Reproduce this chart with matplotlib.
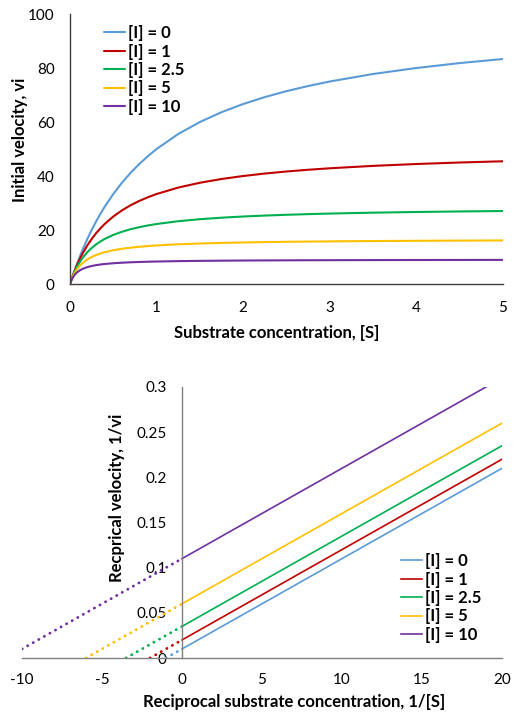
import matplotlib.pyplot as plt

plt.rcParams['font.family'] = ['Lato', 'DejaVu Sans']
plt.rcParams['axes.unicode_minus'] = False

# Michaelis-Menten curves
labels = ['[I] = 0', '[I] = 1', '[I] = 2.5', '[I] = 5', '[I] = 10']
colors = ['#5B9BD5', '#C00000', '#00B050', '#FFC000', '#7030A0']

s_conc = [0, 0.01, 0.025, 0.05, 0.075, 0.1, 0.125, 0.15, 0.2, 0.25, 0.3, 0.35, 0.4, 0.5,
          0.6, 0.7, 0.8, 0.9, 1.0, 1.25, 1.5, 1.75, 2.0, 2.25, 2.5, 2.75, 3.0, 3.5, 4.0, 4.5, 5.0]
v_i0 = [0, 0.99, 2.44, 4.76, 6.98, 9.09, 11.11, 13.04, 16.67, 20.0, 23.08, 25.93, 28.57, 33.33,
        37.5, 41.18, 44.44, 47.37, 50.0, 55.56, 60.0, 63.64, 66.67, 69.23, 71.43, 73.33, 75.0,
        77.78, 80.0, 81.82, 83.33]
v_i1 = [0, 0.98, 2.38, 4.55, 6.52, 8.33, 10.0, 11.54, 14.29, 16.67, 18.75, 20.59, 22.22, 25.0,
        27.27, 29.17, 30.77, 32.14, 33.33, 35.71, 37.5, 38.89, 40.0, 40.91, 41.67, 42.31, 42.86,
        43.75, 44.44, 45.0, 45.45]
v_i25 = [0, 0.97, 2.30, 4.26, 5.94, 7.41, 8.70, 9.84, 11.76, 13.33, 14.63, 15.73, 16.67, 18.18,
         19.35, 20.29, 21.05, 21.69, 22.22, 23.26, 24.0, 24.56, 25.0, 25.35, 25.64, 25.88, 26.09,
         26.42, 26.67, 26.87, 27.03]
v_i5 = [0, 0.94, 2.17, 3.85, 5.17, 6.25, 7.14, 7.89, 9.09, 10.0, 10.71, 11.29, 11.76, 12.5,
        13.04, 13.46, 13.79, 14.06, 14.29, 14.71, 15.0, 15.22, 15.38, 15.52, 15.63, 15.71, 15.79,
        15.91, 16.0, 16.07, 16.13]
v_i10 = [0, 0.90, 1.96, 3.23, 4.11, 4.76, 5.26, 5.66, 6.25, 6.67, 6.98, 7.22, 7.41, 7.69,
         7.89, 8.05, 8.16, 8.26, 8.33, 8.47, 8.57, 8.64, 8.70, 8.74, 8.77, 8.80, 8.82,
         8.86, 8.89, 8.91, 8.93]
velocities = [v_i0, v_i1, v_i25, v_i5, v_i10]

# Lineweaver-Burk lines
recip_x_dot = [-1, -2, -3.5, -6, -10]        # where the dotted extension starts
recip_y_dot = [0, 0, 0, 0, 0.01]
recip_y0 = [0.01, 0.02, 0.035, 0.06, 0.11]    # value at 1/[S] = 0
recip_y20 = [0.21, 0.22, 0.235, 0.26, 0.31]   # value at 1/[S] = 20

W, H = 524, 724
fig = plt.figure(figsize=(W / 100, H / 100), dpi=100)

def px_axes(left, top, right, bottom):
    return fig.add_axes([left / W, 1 - bottom / H, (right - left) / W, (bottom - top) / H])

tick_fs = 11
lab_fs = 12
leg_kw = dict(frameon=False, prop={'weight': 'bold', 'size': lab_fs}, handlelength=1.25,
              handletextpad=0.2, labelspacing=0.15, borderaxespad=0, borderpad=0)

# ---------------- top chart ----------------
ax1 = px_axes(70, 14, 503, 284)
for v, c, lab in zip(velocities, colors, labels):
    ax1.plot(s_conc, v, color=c, lw=1.5, label=lab, solid_capstyle='round')
ax1.set_xlim(0, 5)
ax1.set_ylim(0, 100)
ax1.set_xticks([0, 1, 2, 3, 4, 5])
ax1.set_yticks([0, 20, 40, 60, 80, 100])
for sp in ['top', 'right']:
    ax1.spines[sp].set_visible(False)
for sp in ['left', 'bottom']:
    ax1.spines[sp].set_color('#404040')
    ax1.spines[sp].set_linewidth(1.0)
ax1.tick_params(axis='both', length=0, labelsize=tick_fs, colors='#000000')
ax1.tick_params(axis='y', pad=11)
ax1.tick_params(axis='x', pad=12)
fig.text(20 / W, 1 - 140 / H, 'Initial velocity, vi', rotation=90, ha='center', va='center',
         fontsize=lab_fs, fontweight='bold')
fig.text(277 / W, 1 - 333 / H, 'Substrate concentration, [S]', ha='center', va='center',
         fontsize=lab_fs, fontweight='bold')
ax1.legend(loc='upper left', bbox_to_anchor=(104 / W, 1 - 25 / H), bbox_transform=fig.transFigure,
           **leg_kw)

# ---------------- bottom chart ----------------
ax2 = px_axes(22, 387, 502, 658)
handles = []
for i in range(len(labels)):
    ax2.plot([recip_x_dot[i], 0], [recip_y_dot[i], recip_y0[i]], color=colors[i], lw=2.0,
             linestyle=(0, (0.1, 2.2)), dash_capstyle='round')
    h, = ax2.plot([0, 20], [recip_y0[i], recip_y20[i]], color=colors[i], lw=1.2, label=labels[i])
    handles.append(h)
ax2.set_xlim(-10, 20)
ax2.set_ylim(0, 0.3)
ax2.set_xticks([-10, -5, 0, 5, 10, 15, 20])
ax2.set_yticks([0, 0.05, 0.1, 0.15, 0.2, 0.25, 0.3])
ax2.set_yticklabels(['0', '0.05', '0.1', '0.15', '0.2', '0.25', '0.3'])
for sp in ['top', 'right']:
    ax2.spines[sp].set_visible(False)
ax2.spines['left'].set_position(('data', 0))
for sp in ['left', 'bottom']:
    ax2.spines[sp].set_color('#808080')
    ax2.spines[sp].set_linewidth(1.0)
ax2.tick_params(axis='both', length=0, labelsize=tick_fs, colors='#000000')
ax2.tick_params(axis='y', pad=11)
ax2.tick_params(axis='x', pad=11)
fig.text(117 / W, 1 - 498 / H, 'Recprical velocity, 1/vi', rotation=90, ha='center', va='center',
         fontsize=lab_fs, fontweight='bold')
fig.text(294 / W, 1 - 702 / H, 'Reciprocal substrate concentration, 1/[S]', ha='center', va='center',
         fontsize=lab_fs, fontweight='bold')
ax2.legend(handles=handles, loc='upper left', bbox_to_anchor=(401 / W, 1 - 553 / H),
           bbox_transform=fig.transFigure, **leg_kw)

fig.savefig('out.png', dpi=100)
